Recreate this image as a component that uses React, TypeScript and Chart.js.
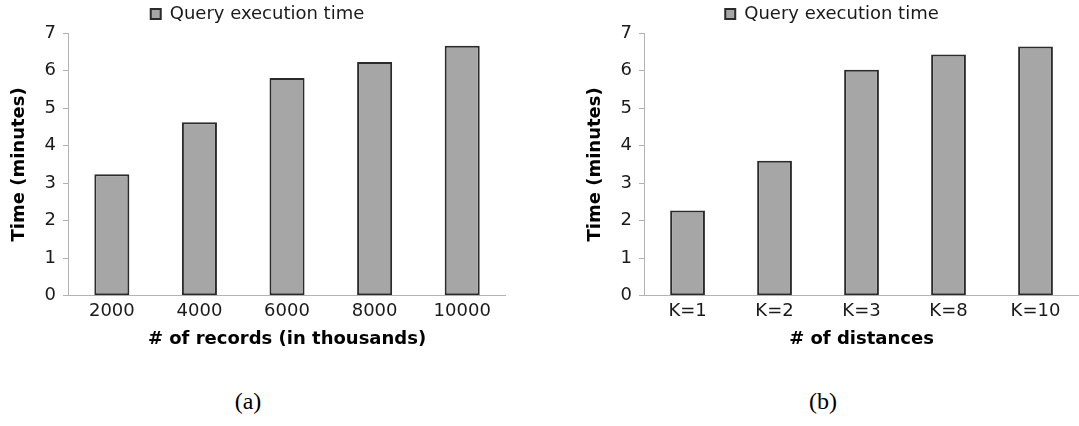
import React, { useEffect, useRef } from "react";
import { Chart, registerables } from "chart.js";

Chart.register(...registerables);

const seriesLabel = "Query execution time";
const recordsCategories = ["2000", "4000", "6000", "8000", "10000"];
const recordsValues = [3.24, 4.62, 5.8, 6.23, 6.66];
const distanceCategories = ["K=1", "K=2", "K=3", "K=8", "K=10"];
const distanceValues = [2.27, 3.6, 6.02, 6.43, 6.64];
const yTitle = "Time (minutes)";
const xTitleA = "# of records (in thousands)";
const xTitleB = "# of distances";

const FONT = "'DejaVu Sans', sans-serif";
const AXIS = "#b3b3b3";
const FS = 18;

function makeConfig(labels: string[], values: number[], xTitle: string): any {
  return {
    type: "bar",
    data: {
      labels,
      datasets: [
        {
          label: seriesLabel,
          data: values,
          backgroundColor: "#a6a6a6",
          borderColor: "#2b2b2b",
          borderWidth: 2,
          borderSkipped: false,
          categoryPercentage: 1,
          barPercentage: 0.4,
        },
      ],
    },
    options: {
      responsive: false,
      animation: false,
      devicePixelRatio: 1,
      layout: { padding: { left: 9, right: 0, top: 2, bottom: 0 } },
      plugins: {
        legend: {
          display: true,
          position: "top",
          labels: {
            boxWidth: 10,
            boxHeight: 10,
            padding: 3,
            color: "#1a1a1a",
            font: { family: FONT, size: FS },
          },
        },
        tooltip: { enabled: false },
      },
      scales: {
        x: {
          grid: { display: false, drawTicks: false },
          border: { display: true, color: AXIS, width: 1 },
          ticks: {
            color: "#1a1a1a",
            font: { family: FONT, size: FS },
            padding: 5,
            maxRotation: 0,
          },
          title: {
            display: true,
            text: xTitle,
            color: "#000",
            font: { family: FONT, size: FS, weight: "bold" },
            padding: { top: 1, bottom: 0 },
          },
        },
        y: {
          min: 0,
          max: 7,
          ticks: {
            stepSize: 1,
            color: "#1a1a1a",
            font: { family: FONT, size: FS },
            padding: 7,
          },
          grid: {
            display: true,
            drawOnChartArea: false,
            drawTicks: true,
            tickLength: 5,
            color: AXIS,
          },
          border: { display: true, color: AXIS, width: 1 },
          title: {
            display: true,
            text: yTitle,
            color: "#000",
            font: { family: FONT, size: FS, weight: "bold" },
            padding: { top: 0, bottom: 7 },
          },
        },
      },
    },
  };
}

function BarChart(props: {
  labels: string[];
  values: number[];
  xTitle: string;
  width: number;
  height: number;
}) {
  const ref = useRef<HTMLCanvasElement | null>(null);
  useEffect(() => {
    if (!ref.current) return;
    const chart = new Chart(ref.current, makeConfig(props.labels, props.values, props.xTitle));
    return () => chart.destroy();
  }, []);
  return (
    <canvas
      ref={ref}
      width={props.width}
      height={props.height}
      style={{ width: props.width, height: props.height, display: "block" }}
    />
  );
}

export default function App() {
  return (
    <div
      style={{
        position: "absolute",
        left: 0,
        top: 0,
        width: 1079,
        height: 426,
        background: "#fff",
        overflow: "hidden",
      }}
    >
      <div style={{ position: "absolute", left: 0, top: 0 }}>
        <BarChart labels={recordsCategories} values={recordsValues} xTitle={xTitleA} width={506} height={350} />
      </div>
      <div style={{ position: "absolute", left: 576, top: 0 }}>
        <BarChart labels={distanceCategories} values={distanceValues} xTitle={xTitleB} width={503} height={350} />
      </div>
      <div
        style={{
          position: "absolute",
          left: 198,
          width: 100,
          top: 388,
          textAlign: "center",
          fontFamily: "'Liberation Serif', serif",
          fontSize: 24,
          color: "#000",
        }}
      >
        (a)
      </div>
      <div
        style={{
          position: "absolute",
          left: 773,
          width: 100,
          top: 388,
          textAlign: "center",
          fontFamily: "'Liberation Serif', serif",
          fontSize: 24,
          color: "#000",
        }}
      >
        (b)
      </div>
    </div>
  );
}
